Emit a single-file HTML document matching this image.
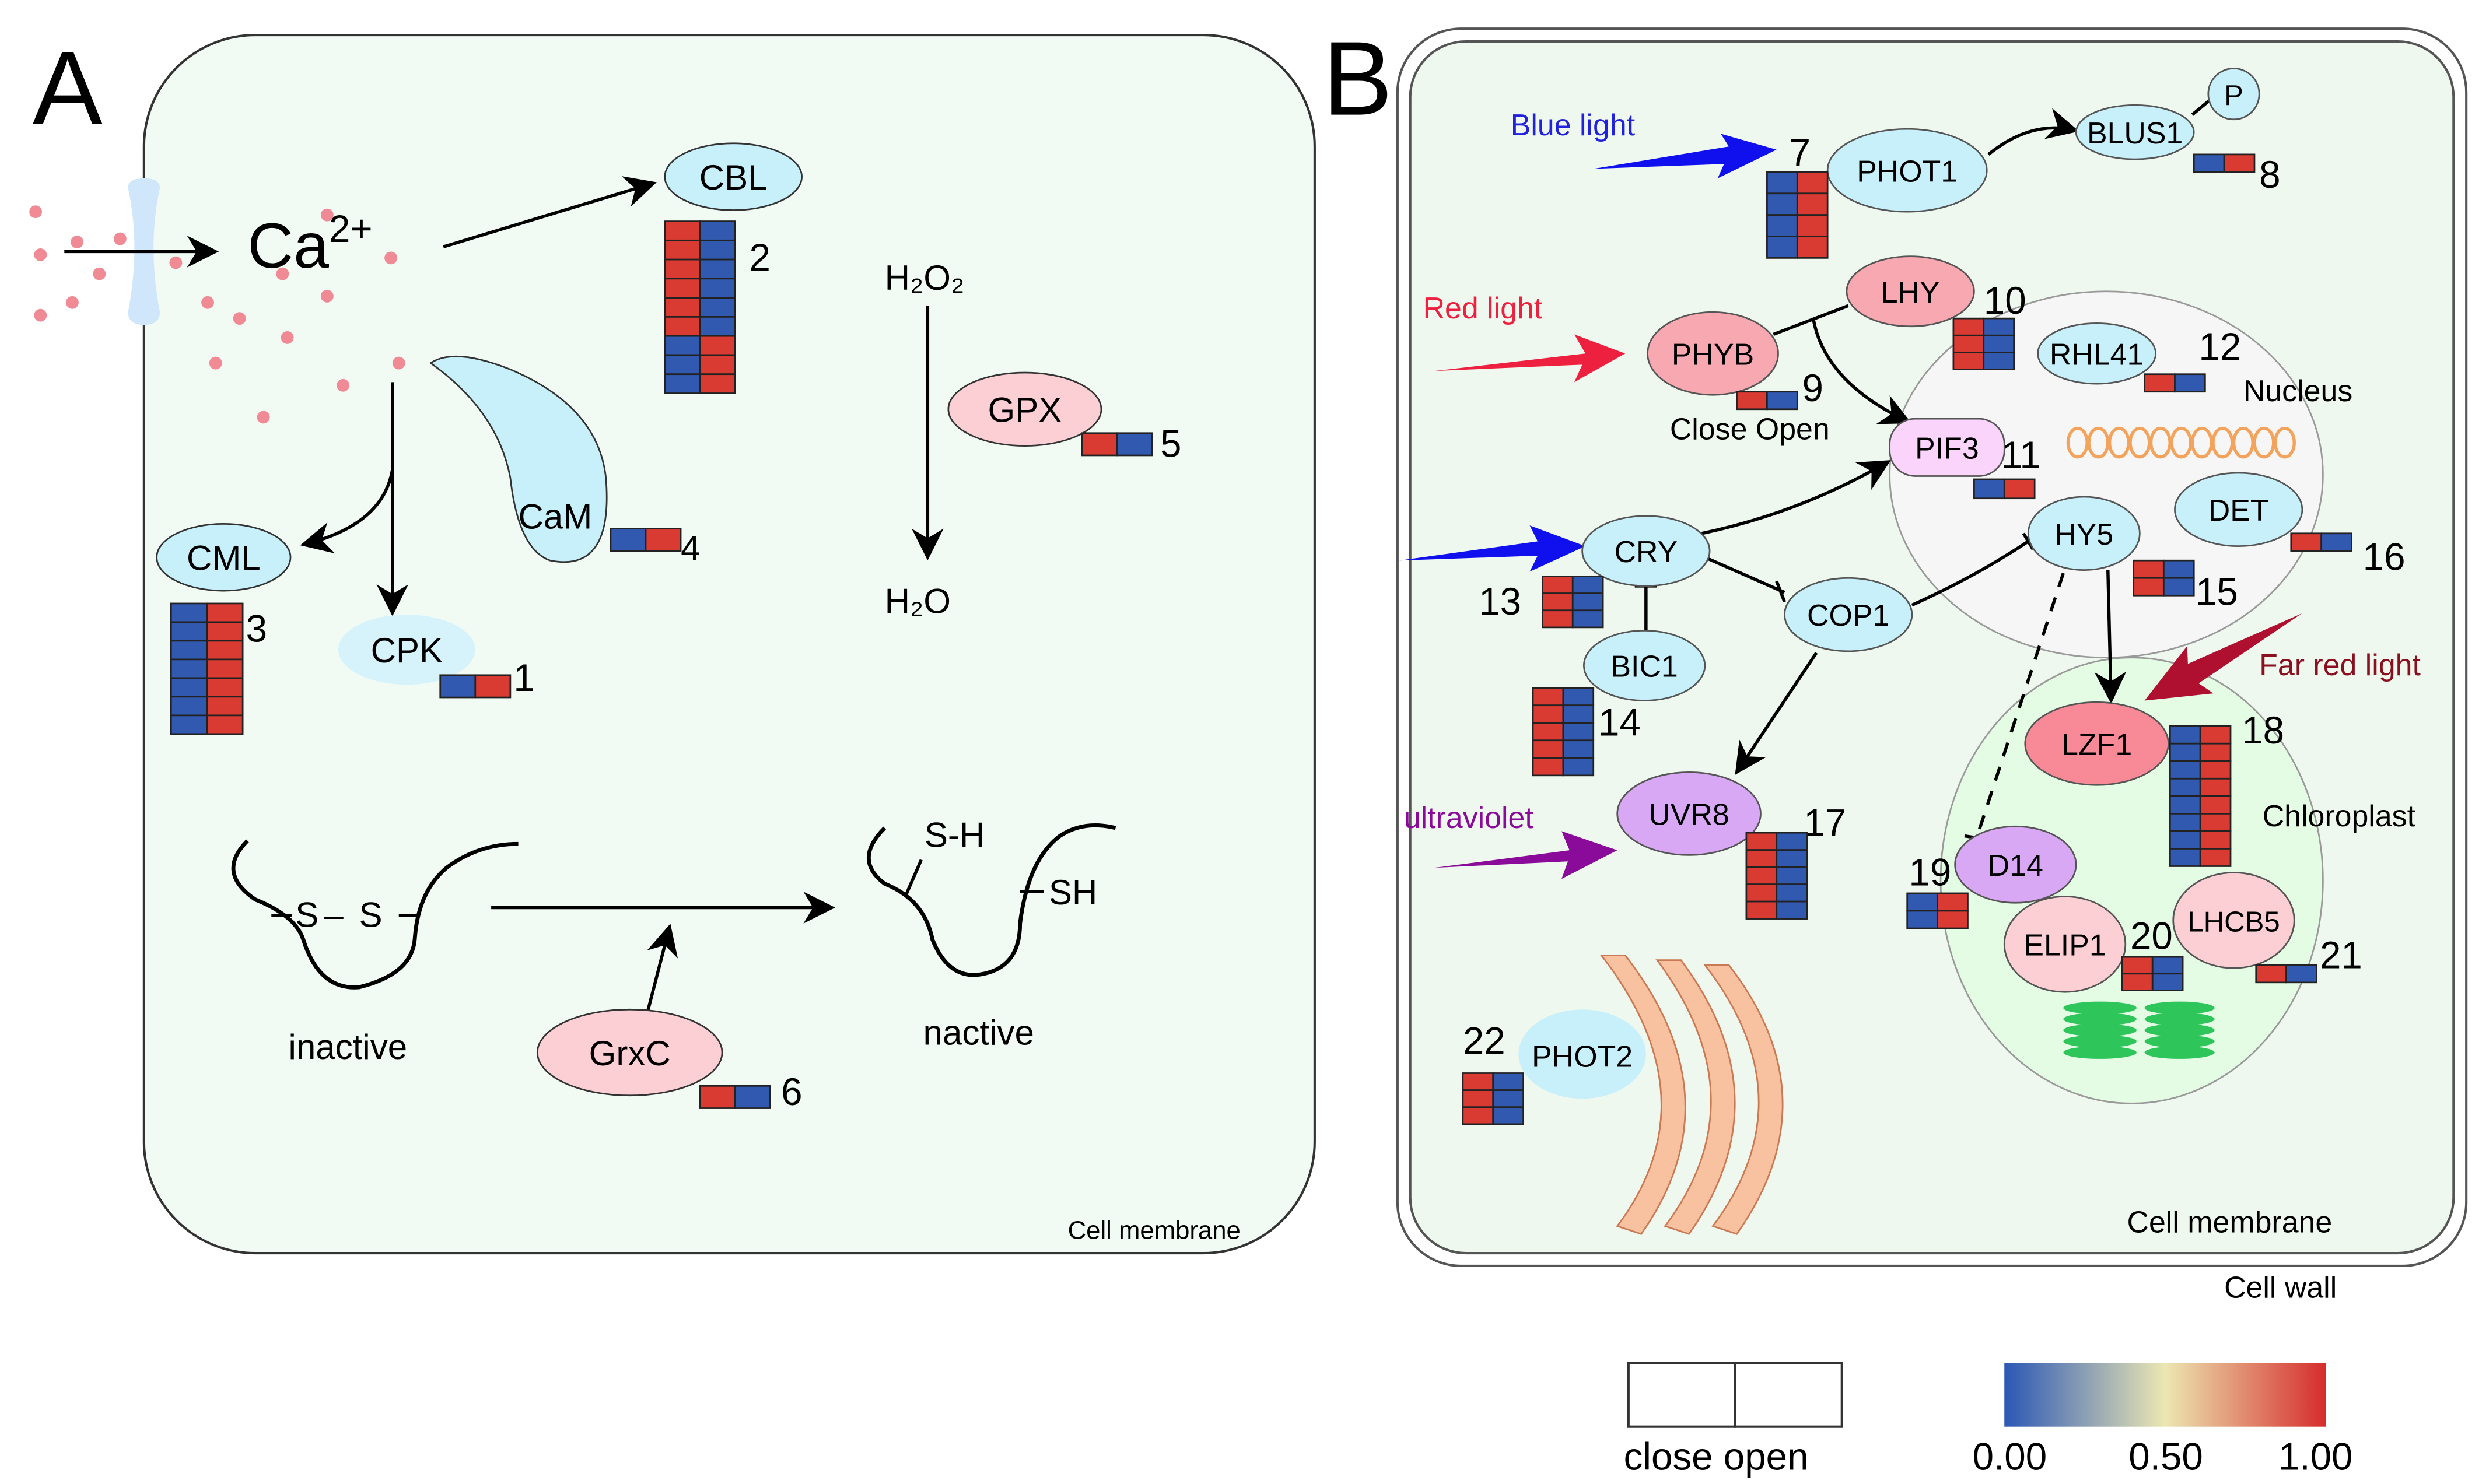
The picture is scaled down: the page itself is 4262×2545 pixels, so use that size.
<!DOCTYPE html>
<html><head><meta charset="utf-8"><style>html,body{margin:0;padding:0;background:#fff}svg{display:block}text{font-family:"Liberation Sans",sans-serif}</style></head><body>
<svg id="s" width="4262" height="2545" viewBox="0 0 1560 932" xmlns="http://www.w3.org/2000/svg">
<defs>
<marker id="ab" viewBox="0 0 10 10" refX="9" refY="5" markerWidth="20" markerHeight="20" orient="auto" markerUnits="userSpaceOnUse"><path d="M0,0 L10,5 L0,10 L3,5z" fill="#000"/></marker>
<linearGradient id="cg" x1="0" x2="1"><stop offset="0" stop-color="#2b57b5"/><stop offset="0.5" stop-color="#ece7b2"/><stop offset="1" stop-color="#d62c2c"/></linearGradient>
</defs>
<!-- Panel A -->
<rect x="90" y="22" width="735" height="765" rx="70" fill="#f1fbf4" stroke="#333" stroke-width="1.5"/>
<text x="20" y="78" font-size="66">A</text>
<text x="670" y="778" font-size="16">Cell membrane</text>
<path d="M80,118 Q80,112 90,112 Q100,112 100,118 Q92,155 100,196 Q100,204 90,204 Q80,204 80,196 Q88,155 80,118z" fill="#cfe6fb"/>
<line x1="40" y1="158" x2="135" y2="158" stroke="#000" stroke-width="2" marker-end="url(#ab)"/>
<text x="155" y="168" font-size="40">Ca<tspan font-size="24" dy="-16">2+</tspan></text>
<g fill="#f08a94" id="dots"></g>
<line x1="278" y1="155" x2="410" y2="115" stroke="#000" stroke-width="2" marker-end="url(#ab)"/>
<ellipse cx="460" cy="111" rx="43" ry="21" fill="#c8f0fb" stroke="#333"/><text x="460" y="119" font-size="22" text-anchor="middle">CBL</text>
<text x="470" y="170" font-size="24">2</text>
<path d="M270,228 Q285,218 320,232 Q375,255 380,300 Q385,360 345,352 Q325,345 320,300 Q312,258 270,228z" fill="#c8f0fb" stroke="#333"/>
<text x="325" y="332" font-size="22">CaM</text><text x="427" y="352" font-size="22">4</text>
<line x1="246" y1="240" x2="246" y2="385" stroke="#000" stroke-width="2" marker-end="url(#ab)"/>
<path d="M246,295 Q240,330 190,342" fill="none" stroke="#000" stroke-width="2" marker-end="url(#ab)"/>
<ellipse cx="140" cy="350" rx="42" ry="21" fill="#c8f0fb" stroke="#333"/><text x="140" y="358" font-size="22" text-anchor="middle">CML</text>
<text x="154" y="403" font-size="24">3</text>
<ellipse cx="255" cy="408" rx="43" ry="22" fill="#d6f3fb"/><text x="255" y="416" font-size="22" text-anchor="middle">CPK</text>
<text x="322" y="434" font-size="24">1</text>
<text x="555" y="182" font-size="22">H₂O₂</text>
<line x1="582" y1="192" x2="582" y2="350" stroke="#000" stroke-width="2" marker-end="url(#ab)"/>
<text x="555" y="385" font-size="22">H₂O</text>
<ellipse cx="643" cy="257" rx="48" ry="23" fill="#fbcfd3" stroke="#333"/><text x="643" y="265" font-size="22" text-anchor="middle">GPX</text>
<text x="728" y="287" font-size="24">5</text>
<path d="M155,528 Q135,548 160,565 Q185,575 190,590 Q200,622 225,620 Q258,612 260,590 Q262,560 280,545 Q300,530 325,530" fill="none" stroke="#000" stroke-width="2.5"/>
<text x="185" y="582" font-size="22">S</text><text x="203" y="582" font-size="22">–</text><text x="225" y="582" font-size="22">S</text><line x1="170" y1="575" x2="183" y2="575" stroke="#000" stroke-width="2"/><line x1="250" y1="575" x2="262" y2="575" stroke="#000" stroke-width="2"/>
<text x="218" y="665" font-size="22" text-anchor="middle">inactive</text>
<line x1="308" y1="570" x2="522" y2="570" stroke="#000" stroke-width="2" marker-end="url(#ab)"/>
<line x1="405" y1="640" x2="420" y2="582" stroke="#000" stroke-width="2" marker-end="url(#ab)"/>
<ellipse cx="395" cy="661" rx="58" ry="27" fill="#fbcfd3" stroke="#333"/><text x="395" y="669" font-size="22" text-anchor="middle">GrxC</text>
<text x="490" y="694" font-size="24">6</text>
<path d="M555,520 Q535,540 555,555 Q580,565 585,590 Q595,615 615,612 Q640,608 640,580 Q645,540 665,525 Q680,515 700,520" fill="none" stroke="#000" stroke-width="2.5"/>
<line x1="568" y1="563" x2="578" y2="540" stroke="#000" stroke-width="2"/>
<text x="580" y="532" font-size="22">S-H</text>
<line x1="640" y1="560" x2="655" y2="560" stroke="#000" stroke-width="2"/><text x="658" y="568" font-size="22">SH</text>
<text x="614" y="656" font-size="22" text-anchor="middle">nactive</text>
<!-- Panel B -->
<text x="830" y="72" font-size="66">B</text>
<rect x="877" y="18" width="671" height="777" rx="40" fill="#fff" stroke="#555" stroke-width="1.5"/>
<rect x="885" y="26" width="655" height="761" rx="35" fill="#eef8ee" stroke="#555" stroke-width="1.5"/>
<text x="1335" y="774" font-size="19">Cell membrane</text>
<text x="1396" y="815" font-size="19">Cell wall</text>
<ellipse cx="1322" cy="298" rx="136" ry="115" fill="#f6f6f6" stroke="#999"/>
<text x="1408" y="252" font-size="19">Nucleus</text>
<g id="dna"></g>
<ellipse cx="1338" cy="553" rx="120" ry="140" fill="#e4fbe4" stroke="#999"/>
<text x="1420" y="519" font-size="19">Chloroplast</text>
<g fill="#2ec55a" id="thy"></g>
<!-- light arrows -->
<path d="M1000,106 L1085,92 L1080,84 L1115,94 L1078,112 L1082,103 Z" fill="#1010ee"/>
<text x="948" y="85" font-size="19" fill="#2222dd">Blue light</text>
<path d="M900,233 L995,222 L988,210 L1020,222 L988,240 L993,229 Z" fill="#ee2040"/>
<text x="893" y="200" font-size="19" fill="#ee2040">Red light</text>
<path d="M878,352 L965,340 L960,330 L995,343 L960,359 L965,349 Z" fill="#1010ee"/>
<path d="M900,545 L985,534 L980,522 L1015,534 L980,552 L984,541 Z" fill="#8a0a9a"/>
<text x="881" y="520" font-size="19" fill="#8a0a9a">ultraviolet</text>
<path d="M-113,0 L-35,-7 L-40,-17 L0,0 L-40,17 L-35,7 Z" fill="#b0102f" transform="translate(1346,440) rotate(151)"/>
<text x="1418" y="424" font-size="19" fill="#8a1020">Far red light</text>
<!-- connectors -->
<path d="M1248,97 Q1275,75 1303,82" fill="none" stroke="#000" stroke-width="2" marker-end="url(#ab)"/>
<line x1="1376" y1="72" x2="1388" y2="62" stroke="#000" stroke-width="2"/>
<line x1="1113" y1="210" x2="1160" y2="192" stroke="#000" stroke-width="2"/>
<path d="M1138,200 Q1145,240 1198,265" fill="none" stroke="#000" stroke-width="2" marker-end="url(#ab)"/>
<path d="M1068,335 Q1130,322 1185,290" fill="none" stroke="#000" stroke-width="2" marker-end="url(#ab)"/>
<line x1="1070" y1="350" x2="1120" y2="372" stroke="#000" stroke-width="2"/><line x1="1115" y1="365" x2="1120" y2="378" stroke="#000" stroke-width="2"/>
<line x1="1033" y1="368" x2="1033" y2="398" stroke="#000" stroke-width="2"/><line x1="1026" y1="368" x2="1040" y2="368" stroke="#000" stroke-width="2"/>
<path d="M1200,380 Q1240,362 1273,340" fill="none" stroke="#000" stroke-width="2"/><line x1="1270" y1="335" x2="1276" y2="345" stroke="#000" stroke-width="2"/>
<line x1="1140" y1="410" x2="1090" y2="485" stroke="#000" stroke-width="2" marker-end="url(#ab)"/>
<line x1="1323" y1="358" x2="1325" y2="440" stroke="#000" stroke-width="2" marker-end="url(#ab)"/>
<line x1="1295" y1="360" x2="1240" y2="528" stroke="#000" stroke-width="2" stroke-dasharray="9,7"/><line x1="1233" y1="525" x2="1246" y2="527" stroke="#000" stroke-width="2"/>
<!-- nodes -->
<ellipse cx="1197" cy="107" rx="50" ry="26" fill="#c8f0fb" stroke="#555"/><text x="1197" y="114" font-size="19" text-anchor="middle">PHOT1</text>
<text x="1123" y="104" font-size="24">7</text>
<ellipse cx="1340" cy="83" rx="37" ry="17" fill="#c8f0fb" stroke="#555"/><text x="1340" y="90" font-size="19" text-anchor="middle">BLUS1</text>
<ellipse cx="1402" cy="59" rx="16" ry="16" fill="#c8f0fb" stroke="#555"/><text x="1402" y="66" font-size="18" text-anchor="middle">P</text>
<text x="1418" y="118" font-size="24">8</text>
<ellipse cx="1075" cy="222" rx="41" ry="26" fill="#f7a8b0" stroke="#555"/><text x="1075" y="229" font-size="19" text-anchor="middle">PHYB</text>
<text x="1131" y="252" font-size="24">9</text>
<text x="1048" y="276" font-size="19">Close Open</text>
<ellipse cx="1199" cy="183" rx="40" ry="22" fill="#f7a8b0" stroke="#555"/><text x="1199" y="190" font-size="19" text-anchor="middle">LHY</text>
<text x="1245" y="197" font-size="24">10</text>
<ellipse cx="1316" cy="222" rx="37" ry="19" fill="#c8f0fb" stroke="#555"/><text x="1316" y="229" font-size="19" text-anchor="middle">RHL41</text>
<text x="1380" y="226" font-size="24">12</text>
<rect x="1186" y="263" width="72" height="36" rx="16" fill="#fad4fa" stroke="#555"/><text x="1222" y="288" font-size="19" text-anchor="middle">PIF3</text>
<text x="1256" y="294" font-size="24">11</text>
<ellipse cx="1308" cy="335" rx="35" ry="23" fill="#c8f0fb" stroke="#555"/><text x="1308" y="342" font-size="19" text-anchor="middle">HY5</text>
<ellipse cx="1405" cy="320" rx="40" ry="23" fill="#c8f0fb" stroke="#555"/><text x="1405" y="327" font-size="19" text-anchor="middle">DET</text>
<text x="1483" y="358" font-size="24">16</text>
<text x="1378" y="380" font-size="24">15</text>
<ellipse cx="1033" cy="346" rx="40" ry="22" fill="#c8f0fb" stroke="#555"/><text x="1033" y="353" font-size="19" text-anchor="middle">CRY</text>
<text x="928" y="386" font-size="24">13</text>
<ellipse cx="1160" cy="386" rx="40" ry="23" fill="#c8f0fb" stroke="#555"/><text x="1160" y="393" font-size="19" text-anchor="middle">COP1</text>
<ellipse cx="1032" cy="418" rx="38" ry="22" fill="#c8f0fb" stroke="#555"/><text x="1032" y="425" font-size="19" text-anchor="middle">BIC1</text>
<text x="1003" y="462" font-size="24">14</text>
<ellipse cx="1316" cy="467" rx="45" ry="26" fill="#f78a96" stroke="#555"/><text x="1316" y="474" font-size="19" text-anchor="middle">LZF1</text>
<text x="1407" y="467" font-size="24">18</text>
<ellipse cx="1060" cy="511" rx="45" ry="26" fill="#d9a8f5" stroke="#555"/><text x="1060" y="518" font-size="19" text-anchor="middle">UVR8</text>
<text x="1132" y="525" font-size="24">17</text>
<ellipse cx="1265" cy="543" rx="38" ry="24" fill="#d9a8f5" stroke="#555"/><text x="1265" y="550" font-size="19" text-anchor="middle">D14</text>
<text x="1198" y="556" font-size="24">19</text>
<ellipse cx="1296" cy="593" rx="38" ry="30" fill="#fbcfd3" stroke="#555"/><text x="1296" y="600" font-size="19" text-anchor="middle">ELIP1</text>
<text x="1337" y="596" font-size="24">20</text>
<ellipse cx="1402" cy="578" rx="38" ry="30" fill="#fbcfd3" stroke="#555"/><text x="1402" y="585" font-size="18" text-anchor="middle">LHCB5</text>
<text x="1456" y="608" font-size="24">21</text>
<path d="M1005,600 Q1075,690 1015,770 L1030,775 Q1090,690 1020,600z M1040,603 Q1105,690 1045,770 L1060,775 Q1120,690 1055,603z M1070,606 Q1135,690 1075,770 L1090,775 Q1150,690 1085,606z" fill="#f8c2a0" stroke="#c97a55"/>
<ellipse cx="993" cy="662" rx="40" ry="28" fill="#c8f0fb"/><text x="993" y="670" font-size="19" text-anchor="middle">PHOT2</text>
<text x="918" y="662" font-size="24">22</text>
<g id="hm" stroke="#222" stroke-width="1"></g>
<!-- legends -->
<rect x="1022" y="856" width="67" height="40" fill="#fff" stroke="#333" stroke-width="1.5"/><rect x="1089" y="856" width="67" height="40" fill="#fff" stroke="#333" stroke-width="1.5"/>
<text x="1019" y="923" font-size="24">close open</text>
<rect x="1258" y="856" width="202" height="40" fill="url(#cg)"/>
<text x="1238" y="923" font-size="24">0.00</text><text x="1336" y="923" font-size="24">0.50</text><text x="1430" y="923" font-size="24">1.00</text>
</svg>
<script>
var N="http://www.w3.org/2000/svg";function el(p,t,a){var e=document.createElementNS(N,t);for(var k in a)e.setAttribute(k,a[k]);p.appendChild(e);return e;}
var R="#d93a32",B="#3159b0",hm=document.getElementById("hm");
function blk(x,y,w,h,rows,cols){var cw=w/2,rh=h/rows;for(var r=0;r<rows;r++)for(var c=0;c<2;c++){var col=typeof cols=="function"?cols(r)[c]:cols[c];el(hm,"rect",{x:x+c*cw,y:y+r*rh,width:cw,height:rh,fill:col});}}
blk(417,139,44,108,9,function(r){return r<6?[R,B]:[B,R];});
blk(107,379,45,82,7,[B,R]);
blk(276,424,44,14,1,[B,R]);blk(383,332,44,14,1,[B,R]);blk(679,272,44,14,1,[R,B]);blk(439,682,44,14,1,[R,B]);
blk(1109,108,38,54,4,[B,R]);blk(1377,97,38,11,1,[B,R]);blk(1090,246,38,11,1,[R,B]);blk(1226,200,38,32,3,[R,B]);
blk(1346,235,38,11,1,[R,B]);blk(1239,301,38,12,1,[B,R]);blk(968,362,38,32,3,[R,B]);blk(962,432,38,55,5,[R,B]);
blk(1339,352,38,22,2,[R,B]);blk(1438,335,38,11,1,[R,B]);blk(1096,523,38,54,5,[R,B]);blk(1362,456,38,88,8,[B,R]);
blk(1197,561,38,22,2,[B,R]);blk(1332,601,38,21,2,[R,B]);blk(1416,606,38,11,1,[R,B]);blk(918,674,38,32,3,[R,B]);
var d=document.getElementById("dots");[[22,133],[48,152],[75,150],[25,160],[62,172],[45,190],[25,198],[110,165],[130,190],[150,200],[180,212],[205,186],[215,242],[250,228],[135,228],[165,262],[177,172],[205,135],[245,162],[315,272],[320,282]].forEach(function(p){el(d,"circle",{cx:p[0],cy:p[1],r:4});});
var g=document.getElementById("dna");for(var i=0;i<11;i++){var x=1298+i*13;el(g,"ellipse",{cx:x+6,cy:278,rx:6,ry:9,fill:"none",stroke:"#f3a35c","stroke-width":2});}
var t=document.getElementById("thy");for(var j=0;j<5;j++){el(t,"ellipse",{cx:1318,cy:633+j*7,rx:23,ry:4});el(t,"ellipse",{cx:1368,cy:633+j*7,rx:22,ry:4});}
</script>
</body></html>
